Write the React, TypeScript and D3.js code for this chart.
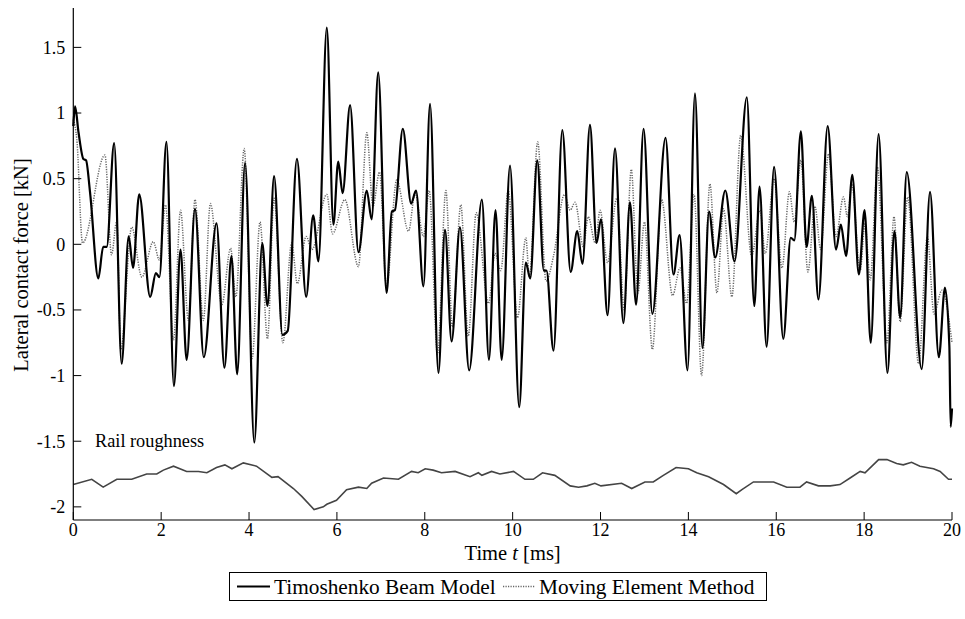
import React from 'react';
import * as d3 from 'd3';

// Timoshenko Beam Model: [time ms, lateral force kN]
const tbm: [number, number][] = [
  [0, 0.9], [0.04, 1.05], [0.12, 0.85], [0.23, 0.65], [0.29, 0.64], [0.38, 0.4], [0.57, -0.26],
  [0.68, -0.02], [0.76, -0.02], [0.93, 0.77], [1.10, -0.91], [1.26, 0.06], [1.36, -0.18],
  [1.50, 0.38], [1.75, -0.40], [1.88, -0.22], [1.96, -0.25], [2.12, 0.78], [2.29, -1.08],
  [2.44, -0.04], [2.58, -0.88], [2.77, 0.27], [2.97, -0.86], [3.26, 0.16], [3.44, -0.94],
  [3.60, -0.09], [3.73, -0.99], [3.91, 0.62], [4.12, -1.51], [4.30, 0.01], [4.42, -0.47],
  [4.57, 0.52], [4.76, -0.69], [4.88, -0.66], [5.09, 0.65], [5.30, -0.40], [5.46, 0.22],
  [5.58, -0.13], [5.77, 1.65], [5.92, 0.15], [6.03, 0.63], [6.13, 0.39], [6.30, 1.06],
  [6.49, -0.06], [6.68, 0.41], [6.79, 0.19], [6.94, 1.31], [7.13, -0.37], [7.25, 0.25],
  [7.32, 0.26], [7.50, 0.88], [7.69, 0.31], [7.80, 0.41], [7.97, -0.32], [8.12, 1.07],
  [8.31, -0.98], [8.46, 0.11], [8.61, -0.74], [8.80, 0.13], [9.01, -0.96], [9.30, 0.34],
  [9.46, -0.88], [9.61, 0.26], [9.75, -0.88], [9.94, 0.60], [10.15, -1.24], [10.30, -0.14],
  [10.40, -0.26], [10.56, 0.64], [10.71, -0.20], [10.77, -0.20], [10.93, -0.81], [11.13, 0.87],
  [11.32, -0.21], [11.47, 0.10], [11.59, -0.15], [11.76, 0.91], [11.91, 0.01], [12.01, 0.19],
  [12.16, -0.54], [12.33, 0.73], [12.52, -0.60], [12.67, 0.32], [12.81, -0.46], [12.98, 0.88],
  [13.18, -0.53], [13.48, 0.81], [13.66, -0.23], [13.80, 0.07], [13.98, -0.96], [14.15, 1.15],
  [14.32, -0.79], [14.47, 0.25], [14.61, -0.10], [14.84, 0.41], [15.05, -0.13], [15.33, 1.12],
  [15.50, -0.47], [15.62, 0.44], [15.78, -0.78], [15.95, 0.59], [16.16, -0.72], [16.33, 0.05],
  [16.41, 0.03], [16.56, 0.86], [16.69, -0.02], [16.81, 0.37], [16.96, -0.42], [17.17, 0.90],
  [17.36, -0.04], [17.47, 0.15], [17.59, -0.09], [17.73, 0.53], [17.88, -0.23], [18.01, 0.26],
  [18.15, -0.75], [18.33, 0.84], [18.53, -0.98], [18.69, 0.10], [18.82, -0.56], [18.97, 0.55],
  [19.31, -0.95], [19.50, 0.40], [19.70, -0.86], [19.84, -0.33], [19.94, -0.78], [19.97, -1.39],
  [20, -1.25]
];

// Moving Element Method
const mem: [number, number][] = [
  [0, 0.95], [0.08, 0.8], [0.21, 0.01], [0.72, 0.68], [0.87, -0.08], [0.99, 0.18], [1.08, -0.80],
  [1.33, 0.13], [1.56, -0.25], [1.82, 0.02], [1.96, -0.12], [2.10, 0.30], [2.28, -0.73],
  [2.44, 0.26], [2.62, -0.58], [2.77, 0.34], [2.96, -0.58], [3.12, 0.31], [3.38, -0.46],
  [3.58, -0.03], [3.70, -0.40], [3.89, 0.73], [4.07, -0.87], [4.25, 0.17], [4.42, -0.72],
  [4.57, 0.35], [4.77, -0.75], [4.97, 0.01], [5.10, -0.30], [5.30, 0.06], [5.43, -0.04],
  [5.77, 0.38], [5.90, 0.08], [6.18, 0.34], [6.49, -0.17], [6.68, 0.85], [6.82, 0.29],
  [6.97, 0.55], [7.13, -0.32], [7.36, 0.49], [7.63, 0.10], [7.78, 0.39], [7.97, 0.06],
  [8.10, 0.41], [8.29, -0.84], [8.48, 0.41], [8.63, -0.63], [8.82, 0.30], [8.99, -0.70],
  [9.17, 0.24], [9.45, -0.45], [9.60, -0.07], [9.73, -0.20], [9.90, 0.41], [10.11, -0.56],
  [10.30, 0.05], [10.38, -0.25], [10.57, 0.78], [10.76, -0.28], [10.93, -0.09], [11.18, 0.38],
  [11.31, 0.26], [11.42, 0.32], [11.61, -0.02], [11.72, 0.21], [11.88, 0.01], [11.99, 0.26],
  [12.16, -0.14], [12.37, 0.35], [12.54, -0.50], [12.70, 0.57], [12.85, -0.37], [13.00, 0.17],
  [13.18, -0.80], [13.39, 0.34], [13.64, -0.39], [13.81, -0.18], [13.96, -0.45], [14.13, 0.38],
  [14.30, -1.00], [14.49, 0.46], [14.65, -0.37], [14.80, 0.27], [14.99, -0.40], [15.19, 0.83],
  [15.44, -0.09], [15.63, 0.26], [15.75, -0.07], [15.95, 0.50], [16.13, -0.18], [16.30, 0.40],
  [16.41, 0.17], [16.56, 0.64], [16.72, -0.21], [16.88, 0.29], [17.01, -0.04], [17.19, 0.69],
  [17.36, 0.06], [17.53, 0.36], [17.62, 0.21], [17.72, 0.46], [17.91, -0.20], [18.02, 0.16],
  [18.14, -0.27], [18.30, 0.59], [18.52, -0.75], [18.68, 0.21], [18.82, -0.59], [18.99, 0.36],
  [19.24, -0.91], [19.44, 0.06], [19.59, -0.53], [19.77, -0.35], [20, -0.75]
];

// rail roughness, drawn in the same force units
const roughness: [number, number][] = [
  [0, -1.83], [0.42, -1.79], [0.68, -1.85], [0.99, -1.79], [1.33, -1.79], [1.67, -1.75],
  [1.90, -1.75], [2.05, -1.72], [2.28, -1.69], [2.58, -1.73], [2.85, -1.73], [3.04, -1.74],
  [3.26, -1.70], [3.45, -1.68], [3.61, -1.71], [3.87, -1.665], [4.17, -1.69], [4.52, -1.775],
  [4.66, -1.77], [5.01, -1.86], [5.20, -1.92], [5.48, -2.02], [5.69, -2.0], [5.77, -1.98],
  [5.99, -1.95], [6.22, -1.87], [6.49, -1.85], [6.68, -1.86], [6.79, -1.82], [7.06, -1.78],
  [7.40, -1.79], [7.70, -1.73], [7.85, -1.74], [8.01, -1.71], [8.19, -1.72], [8.38, -1.74],
  [8.69, -1.73], [9.03, -1.77], [9.22, -1.74], [9.30, -1.76], [9.52, -1.73], [9.71, -1.75],
  [10.02, -1.73], [10.28, -1.79], [10.47, -1.79], [10.68, -1.74], [10.96, -1.76], [11.31, -1.84],
  [11.50, -1.85], [11.69, -1.84], [11.87, -1.82], [12.01, -1.84], [12.48, -1.82], [12.71, -1.86],
  [13.01, -1.81], [13.20, -1.81], [13.43, -1.76], [13.72, -1.70], [14.00, -1.71], [14.19, -1.74],
  [14.46, -1.77], [14.80, -1.83], [15.09, -1.90], [15.21, -1.87], [15.48, -1.81], [15.94, -1.81],
  [16.24, -1.85], [16.54, -1.85], [16.69, -1.81], [16.96, -1.84], [17.23, -1.84], [17.45, -1.83],
  [17.68, -1.78], [17.91, -1.73], [18.02, -1.74], [18.33, -1.64], [18.52, -1.64], [18.74, -1.67],
  [18.89, -1.68], [19.08, -1.66], [19.27, -1.69], [19.58, -1.71], [19.73, -1.73], [19.92, -1.79],
  [20, -1.79]
];

const xTicks = [0, 2, 4, 6, 8, 10, 12, 14, 16, 18, 20];
const yTicks = [-2, -1.5, -1, -0.5, 0, 0.5, 1, 1.5];
const legendLabels = ['Timoshenko Beam Model', 'Moving Element Method'];

const FONT = '"Liberation Serif", "Times New Roman", serif';

export default function App() {
  const x = d3.scaleLinear().domain([0, 20]).range([73.3, 952]);
  const y = d3.scaleLinear().domain([-2.1, 1.8]).range([520, 8]);

  const smooth = d3.line<[number, number]>()
    .x(d => x(d[0]))
    .y(d => y(d[1]))
    .curve(d3.curveMonotoneX);
  const straight = d3.line<[number, number]>()
    .x(d => x(d[0]))
    .y(d => y(d[1]));

  const x0 = x(0), x1 = x(20), yb = y(-2.1), yt = y(1.8);

  return (
    <svg width={965} height={619} style={{position: 'absolute', left: 0, top: 0, background: '#fff'}}
      fontFamily={FONT}>
      <rect x={0} y={0} width={965} height={619} fill="#fff" />

      <path d={smooth(mem) || ''} fill="none" stroke="#666" strokeWidth={1.5} strokeDasharray="1.2 1.3" />
      <path d={smooth(tbm) || ''} fill="none" stroke="#000" strokeWidth={2.2} strokeLinejoin="round" />
      <path d={straight(roughness) || ''} fill="none" stroke="#444" strokeWidth={1.6} />

      {/* axes */}
      <line x1={x0} x2={x0} y1={yt} y2={yb} stroke="#000" strokeWidth={1.2} />
      <line x1={x0} x2={x1} y1={yb} y2={yb} stroke="#000" strokeWidth={1.2} />

      {yTicks.map(t => (
        <g key={'y' + t}>
          <line x1={x0} x2={x0 + 8} y1={y(t)} y2={y(t)} stroke="#000" strokeWidth={1} />
          <text x={x0 - 8} y={y(t)} dy="0.35em" textAnchor="end" fontSize={18}>{String(t)}</text>
        </g>
      ))}
      {xTicks.map(t => (
        <g key={'x' + t}>
          <line x1={x(t)} x2={x(t)} y1={yb} y2={yb - 8} stroke="#000" strokeWidth={1} />
          <text x={x(t)} y={536} textAnchor="middle" fontSize={18}>{String(t)}</text>
        </g>
      ))}

      <text x={(x0 + x1) / 2} y={560} textAnchor="middle" fontSize={20.5}>
        Time <tspan fontStyle="italic">t</tspan> [ms]
      </text>
      <text transform="translate(28,265) rotate(-90)" textAnchor="middle" fontSize={20.5}>
        Lateral contact force [kN]
      </text>
      <text x={95} y={447} fontSize={18.3}>Rail roughness</text>

      {/* legend */}
      <rect x={229.5} y={572.5} width={537} height={28} fill="#fff" stroke="#000" strokeWidth={1} />
      <line x1={237} x2={270} y1={586.5} y2={586.5} stroke="#000" strokeWidth={2} />
      <text x={274} y={593.5} fontSize={21.3}>{legendLabels[0]}</text>
      <line x1={503} x2={535} y1={586.5} y2={586.5} stroke="#666" strokeWidth={1.5} strokeDasharray="1.2 1.3" />
      <text x={539} y={593.5} fontSize={21.3}>{legendLabels[1]}</text>
    </svg>
  );
}
